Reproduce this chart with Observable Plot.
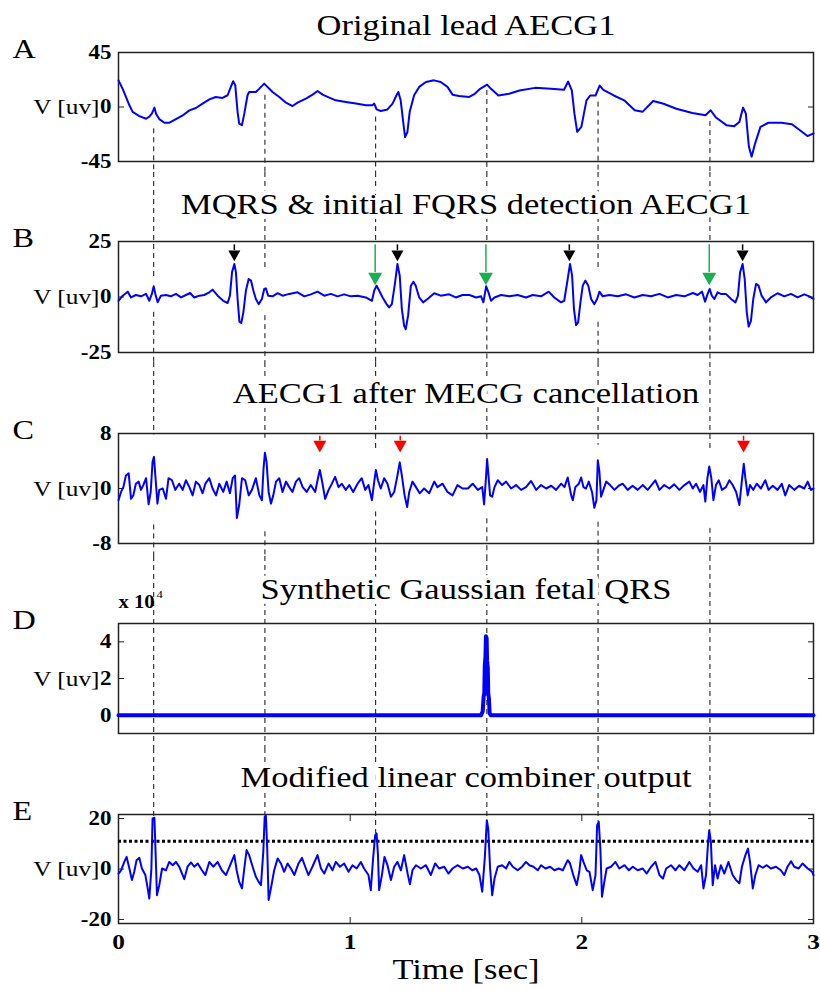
<!DOCTYPE html>
<html><head><meta charset="utf-8">
<script src="https://cdn.jsdelivr.net/npm/d3@7"></script>
<script src="https://cdn.jsdelivr.net/npm/@observablehq/plot@0.6"></script>
<style>
html,body{margin:0;padding:0;background:#fff;overflow:hidden;}
#fig{width:820px;}
#fig svg{display:block;max-width:none;}
</style></head><body><div id="fig"></div>
<script>
// ---------- data ----------
const titles = ["Original lead AECG1", "MQRS & initial FQRS detection AECG1", "AECG1 after MECG cancellation", "Synthetic Gaussian fetal QRS", "Modified linear combiner output"];
const panelLetters = ["A", "B", "C", "D", "E"];
const yLabel = "V [uv]";
const xLabel = "Time [sec]";
const timeTicks = [0, 1, 2, 3];
const yTicksA = [-45, 0, 45];
const yTicksB = [-25, 0, 25];
const yTicksC = [-8, 0, 8];
const yTicksD = [0, 20000, 40000];
const yTicksE = [-20, 0, 20];
const scaleNote = "x 10";
const scaleExp = "4";
const threshold = 11;

const fetalTimes = [0.152, 0.632, 1.11, 1.59, 2.07, 2.553];
const guideStartA = [-18, 9.7, -8.3, 13.6, 4, -12];
const guideUpperB = [8.1, 12.6, 25, 25, 11.9, 25];
const guideLowerB = [-6.9, -8.4, -6.9, -5.4, -11.4, -5.4];
const guideUpperC = [7.8, 7.3, 5.8, 6.8, 6.3, 5.8];
const guideLowerC = [-5.3, -6.3, -3.4, -4.4, -4.9, -5.8];
const guideEndE = [20.3, 21.3, 14.1, 19.3, 18.7, 15.4];

const maternalTimes = [0.5, 1.204, 1.946, 2.694];
const initialFqrsTimes = [1.108, 1.586, 2.55];
const missedFqrsTimes = [0.869, 1.216, 2.698];

const aecgA = [[0,22],[0.018,15],[0.047,1.4],[0.061,-4],[0.09,-7.5],[0.119,-9.7],[0.133,-8],[0.144,-5.5],[0.155,-0.5],[0.162,-5.5],[0.176,-10],[0.198,-13],[0.22,-13],[0.248,-10],[0.277,-7],[0.306,-2.8],[0.334,-0.8],[0.363,2.8],[0.392,6.3],[0.42,8.3],[0.449,7.5],[0.471,9.7],[0.485,16.6],[0.495,21.3],[0.504,18],[0.514,-4],[0.521,-13.8],[0.533,-15],[0.543,-5.5],[0.557,9.7],[0.564,12.4],[0.593,12.4],[0.608,15.2],[0.629,19.3],[0.643,16.6],[0.665,12.4],[0.694,8.3],[0.723,3.6],[0.751,0.8],[0.773,3.6],[0.809,6.9],[0.838,10.2],[0.859,13.2],[0.881,10.2],[0.91,7.7],[0.938,5.5],[0.981,4.1],[1.025,2.8],[1.068,1.4],[1.096,1.4],[1.104,2.8],[1.114,-2],[1.132,-3.3],[1.161,-2],[1.183,2.8],[1.2,9.7],[1.208,12.4],[1.218,5.5],[1.229,-12.4],[1.237,-24.8],[1.247,-20.7],[1.257,-4],[1.276,9.7],[1.298,16.6],[1.327,20.7],[1.362,22],[1.391,20.7],[1.42,16.6],[1.442,10.2],[1.47,9.1],[1.514,8.3],[1.538,10.9],[1.561,15],[1.591,18.5],[1.608,15],[1.64,9.5],[1.686,10.9],[1.731,13.6],[1.798,15.8],[1.866,15],[1.923,14.2],[1.941,21],[1.957,13.6],[1.968,-5.5],[1.98,-20.5],[1.998,-16.4],[2.02,5.5],[2.036,9.5],[2.059,9.5],[2.077,17.7],[2.093,14.2],[2.138,9.5],[2.183,5.5],[2.228,-2.7],[2.262,-4],[2.308,4.9],[2.353,2.7],[2.408,-1.4],[2.477,-4.9],[2.534,-6.8],[2.556,-2.7],[2.579,-8.7],[2.624,-15],[2.658,-15.8],[2.68,-12.3],[2.696,-0.5],[2.708,-5.5],[2.721,-32.7],[2.733,-41],[2.748,-30],[2.771,-16.4],[2.805,-13],[2.861,-13],[2.907,-14.2],[2.94,-19],[2.974,-24],[3.0,-21.8]];

const aecgB = [[0,-1.7],[0.018,0.6],[0.04,2.4],[0.054,-0.2],[0.075,0.9],[0.097,0.3],[0.119,1.4],[0.133,-1.7],[0.144,1.4],[0.152,4.8],[0.159,1.4],[0.169,-2.4],[0.183,0.6],[0.205,0.9],[0.226,0.3],[0.248,1.4],[0.27,-0.2],[0.291,0.9],[0.309,1.8],[0.327,-0.2],[0.349,0.6],[0.37,0.9],[0.392,2.1],[0.406,3.3],[0.428,0.6],[0.452,-1.7],[0.471,-2.7],[0.481,0.6],[0.49,11.1],[0.5,14.9],[0.507,11.1],[0.514,-0.9],[0.522,-11.1],[0.53,-11.7],[0.539,-6.9],[0.55,2.9],[0.562,8.1],[0.572,7.4],[0.582,2.9],[0.593,-0.9],[0.605,-3.2],[0.619,-0.9],[0.629,3.6],[0.636,3.9],[0.646,0.6],[0.665,0.3],[0.687,1.7],[0.708,0.6],[0.737,1.4],[0.773,2.1],[0.802,0.3],[0.83,1.2],[0.859,2.4],[0.888,0.6],[0.917,1.4],[0.945,0.3],[0.974,1.2],[1.003,0.3],[1.032,0.6],[1.068,-0.2],[1.094,-1.7],[1.104,2.9],[1.114,5.1],[1.125,2.9],[1.14,-0.2],[1.157,-3.2],[1.168,-4.7],[1.18,-3.2],[1.194,6.6],[1.204,14.9],[1.214,9.6],[1.223,-5.4],[1.233,-13],[1.24,-14.5],[1.25,-8.4],[1.262,5.1],[1.273,6.9],[1.283,5.1],[1.298,-0.2],[1.315,-2.4],[1.334,-0.9],[1.363,1.7],[1.391,0.6],[1.427,1.2],[1.456,-0.2],[1.485,0.9],[1.515,0.9],[1.544,-0.2],[1.565,0.3],[1.575,-2.4],[1.587,4.8],[1.597,2.1],[1.608,-1.7],[1.623,-0.2],[1.651,0.9],[1.687,0.3],[1.723,0.9],[1.759,-0.2],[1.788,0.9],[1.824,0.3],[1.857,2.4],[1.881,-0.2],[1.91,-2.4],[1.924,-1.7],[1.939,8.1],[1.949,14.9],[1.958,9.6],[1.966,-5.4],[1.975,-12.7],[1.984,-11.4],[1.994,-2.4],[2.004,5.1],[2.015,7.4],[2.028,5.1],[2.04,-0.9],[2.054,-3.2],[2.066,-0.9],[2.076,2.4],[2.09,0.3],[2.119,0.9],[2.155,0.3],[2.191,1.2],[2.227,-0.2],[2.263,0.9],[2.299,0.3],[2.335,1.4],[2.371,-0.2],[2.407,0.9],[2.443,0.3],[2.479,1.8],[2.5,0.9],[2.519,2.4],[2.532,-2.1],[2.543,1.4],[2.552,3.6],[2.561,0.6],[2.572,-0.9],[2.586,2.1],[2.6,1.4],[2.622,1.4],[2.644,-0.9],[2.663,-2.4],[2.674,0.6],[2.683,11.1],[2.694,14.9],[2.703,8.1],[2.712,-6.9],[2.72,-13.3],[2.73,-10.7],[2.74,-0.9],[2.752,5.9],[2.763,5.1],[2.776,0.6],[2.795,-2.4],[2.816,-0.2],[2.845,1.7],[2.874,0.3],[2.903,1.4],[2.931,-0.2],[2.96,1.2],[2.982,0.3],[3.0,-0.9]];

const aecgC = [[0,-1.7],[0.011,-0.5],[0.021,0.2],[0.032,1.9],[0.044,2.2],[0.054,-1.5],[0.064,-1.0],[0.075,0.7],[0.087,1.0],[0.097,-0.2],[0.107,0.5],[0.119,1.5],[0.13,-2.3],[0.139,-0.5],[0.147,3.9],[0.153,4.6],[0.159,1.9],[0.168,-2.2],[0.176,-0.2],[0.191,0],[0.205,-1.5],[0.216,1.5],[0.231,1.2],[0.245,-0.2],[0.262,0.7],[0.277,-0.2],[0.291,1.2],[0.306,0.2],[0.32,-1.0],[0.334,1.0],[0.349,0.5],[0.363,-0.7],[0.375,0.7],[0.392,1.5],[0.406,0],[0.421,-1.0],[0.435,0.7],[0.452,-0.5],[0.467,1.0],[0.481,-0.7],[0.493,1.5],[0.503,1.9],[0.511,-4.3],[0.521,-2.4],[0.533,1.5],[0.547,1.2],[0.562,-1.0],[0.576,-0.2],[0.593,1.5],[0.608,-1.0],[0.619,-1.7],[0.626,2.9],[0.632,5.2],[0.639,3.9],[0.648,-0.5],[0.658,-2.2],[0.668,-1.0],[0.68,1.0],[0.694,1.5],[0.708,-0.5],[0.723,1.0],[0.737,0.2],[0.751,-0.5],[0.766,1.0],[0.78,1.5],[0.795,0.2],[0.812,-0.5],[0.83,0.5],[0.849,-0.5],[0.861,1.5],[0.869,2.7],[0.878,1.2],[0.892,-1.5],[0.907,-0.2],[0.921,0.7],[0.935,1.7],[0.95,0.2],[0.964,0.7],[0.981,-0.2],[0.996,0.5],[1.013,-0.5],[1.032,0.7],[1.05,1.5],[1.065,-0.2],[1.079,0.5],[1.094,-1.7],[1.104,1.0],[1.111,2.7],[1.12,1.2],[1.132,0],[1.147,1.5],[1.161,0.7],[1.176,-1.2],[1.19,-0.5],[1.204,1.9],[1.214,3.8],[1.223,1.9],[1.235,-1.0],[1.246,-2.7],[1.255,-0.5],[1.269,1.0],[1.284,0.2],[1.3,-0.7],[1.319,0],[1.341,-0.7],[1.363,1.0],[1.377,0.2],[1.399,0.7],[1.42,-0.5],[1.442,-1.0],[1.463,0.5],[1.485,0],[1.508,0],[1.529,0.7],[1.551,-0.2],[1.57,0.2],[1.578,-2.3],[1.587,1.9],[1.591,4.3],[1.597,1.9],[1.604,-1.0],[1.613,-1.2],[1.623,0.2],[1.637,1.2],[1.656,0.5],[1.673,1.0],[1.695,0],[1.716,0.5],[1.738,-0.2],[1.759,0.2],[1.781,1.1],[1.803,-0.2],[1.824,0.5],[1.846,0],[1.868,0.4],[1.889,-0.2],[1.911,0.7],[1.925,0.2],[1.939,1.6],[1.954,-1.0],[1.961,-1.7],[1.972,0.2],[1.987,0.7],[1.997,1.6],[2.007,0.2],[2.018,0],[2.03,1.0],[2.044,-0.5],[2.054,-2.8],[2.063,-1.7],[2.069,4.1],[2.076,2.4],[2.083,-1.2],[2.093,-0.2],[2.105,1.0],[2.122,0.5],[2.141,-0.2],[2.159,0.4],[2.176,0.7],[2.198,-0.2],[2.219,0.4],[2.241,-0.2],[2.263,0.5],[2.284,-0.2],[2.306,0.7],[2.317,1.2],[2.335,-0.2],[2.356,0.5],[2.378,0],[2.399,0.6],[2.421,-0.2],[2.443,0.5],[2.464,1.0],[2.479,0],[2.493,0.7],[2.51,-0.5],[2.525,0.5],[2.533,-1.9],[2.542,1.5],[2.55,3.2],[2.559,1.5],[2.568,-1.7],[2.579,0.5],[2.591,1.2],[2.605,-0.2],[2.622,0.2],[2.637,1.2],[2.651,0.5],[2.666,-0.5],[2.68,-2.4],[2.692,1.5],[2.699,3.6],[2.706,1.5],[2.716,-1.0],[2.726,0.5],[2.74,-0.2],[2.755,0.7],[2.773,0],[2.792,1.2],[2.806,-0.2],[2.824,0.4],[2.845,-0.2],[2.863,0.7],[2.878,-1.0],[2.895,0.5],[2.917,-0.2],[2.938,0.4],[2.96,0],[2.975,1.0],[2.989,-0.2],[3.0,0]];

const gaussD = [[0,0],[1.565,0],[1.572,2000],[1.576,10000],[1.579,12000],[1.581,27000],[1.584,32000],[1.586,43000],[1.589,42000],[1.591,30000],[1.594,26000],[1.596,12000],[1.599,9000],[1.602,1000],[1.607,0],[3,0]];

const combinerE = [[0,-1.8],[0.011,-0.5],[0.025,2.8],[0.035,4.8],[0.047,0.2],[0.058,-4.4],[0.068,-1.1],[0.078,3.5],[0.09,4.4],[0.101,0.2],[0.116,-2.4],[0.126,-7.7],[0.133,-11.7],[0.142,0.2],[0.147,20],[0.155,20.3],[0.16,6.8],[0.166,-10.4],[0.176,-6.4],[0.188,0.2],[0.205,-0.5],[0.219,2.8],[0.234,1.5],[0.248,2.8],[0.262,0.9],[0.284,-4.0],[0.298,0.9],[0.313,2.6],[0.327,0.9],[0.342,2.2],[0.36,-0.5],[0.375,-2.4],[0.392,2.8],[0.409,0.9],[0.428,2.8],[0.446,-0.5],[0.464,-2.4],[0.485,2.2],[0.5,5.5],[0.51,-0.5],[0.521,-5.1],[0.533,-7.7],[0.543,0.2],[0.553,7.5],[0.564,5.5],[0.579,0.9],[0.593,-3.1],[0.605,-5.1],[0.615,-6.4],[0.625,6.8],[0.631,20.7],[0.636,21.3],[0.642,8.1],[0.648,-12.3],[0.658,-7.7],[0.672,-0.5],[0.687,4.2],[0.701,2.2],[0.715,-1.1],[0.73,2.2],[0.744,0.2],[0.759,-2.4],[0.777,2.2],[0.792,4.4],[0.806,0.9],[0.82,-2.4],[0.837,0.9],[0.859,5.5],[0.874,0.2],[0.888,-1.8],[0.907,2.2],[0.924,-0.5],[0.938,2.8],[0.956,0.9],[0.974,2.2],[0.993,-1.1],[1.01,1.5],[1.028,0.2],[1.046,2.8],[1.06,0.2],[1.079,-2.4],[1.089,-8.4],[1.099,4.2],[1.108,13.4],[1.114,14.1],[1.12,5.5],[1.125,-8.4],[1.137,-2.4],[1.148,4.8],[1.161,1.5],[1.176,-4.4],[1.19,0.9],[1.204,2.8],[1.219,-0.5],[1.233,5.5],[1.248,-1.8],[1.258,-6.1],[1.269,-0.5],[1.284,1.5],[1.305,0.2],[1.327,1.5],[1.348,-2.4],[1.367,2.2],[1.384,0.2],[1.406,0.9],[1.424,-1.8],[1.442,0.2],[1.463,1.5],[1.486,0.2],[1.508,0.9],[1.527,-0.5],[1.544,0.2],[1.558,-2.4],[1.57,-9.0],[1.581,4.2],[1.59,19.3],[1.596,16.0],[1.604,0.2],[1.613,-10.4],[1.623,-3.8],[1.637,0.9],[1.656,1.5],[1.673,0.2],[1.687,2.8],[1.702,0.9],[1.723,-0.5],[1.742,0.9],[1.759,2.8],[1.774,1.5],[1.791,0.9],[1.81,-0.5],[1.824,1.5],[1.843,0.2],[1.863,0.9],[1.882,-0.5],[1.9,0.2],[1.918,-0.5],[1.939,3.5],[1.949,2.2],[1.963,-2.4],[1.978,-6.4],[1.989,-1.1],[1.997,5.5],[2.007,2.8],[2.021,-0.5],[2.033,-1.1],[2.047,-8.4],[2.059,-2.4],[2.066,17.4],[2.073,18.7],[2.08,8.1],[2.087,-11.0],[2.097,-5.1],[2.107,0.2],[2.126,0.9],[2.145,2.8],[2.162,0.2],[2.184,1.5],[2.203,-0.5],[2.22,0.9],[2.241,-0.5],[2.263,0.2],[2.28,-1.8],[2.299,0.9],[2.318,2.8],[2.335,-2.4],[2.35,-3.8],[2.364,0.2],[2.385,1.5],[2.404,-0.5],[2.421,1.5],[2.443,-0.5],[2.464,2.8],[2.482,0.2],[2.5,-1.1],[2.515,1.5],[2.525,-7.7],[2.536,-2.4],[2.545,10.8],[2.55,15.4],[2.557,10.8],[2.565,-6.4],[2.575,1.5],[2.586,-3.8],[2.6,1.5],[2.615,-1.8],[2.633,2.8],[2.651,-2.4],[2.666,-4.4],[2.68,-5.7],[2.691,0.9],[2.706,5.5],[2.717,8.1],[2.726,2.8],[2.738,-7.7],[2.749,-2.4],[2.763,1.5],[2.781,0.5],[2.798,1.5],[2.816,0.2],[2.838,0.9],[2.859,-0.5],[2.874,-2.4],[2.888,0.9],[2.903,3.1],[2.917,0.9],[2.936,0.2],[2.953,2.2],[2.975,0.2],[2.994,-1.1],[3.0,-2.4]];

// ---------- style ----------
const serif = "'Liberation Serif','Times New Roman',serif";
const STRETCH = 1.15;
const BLUE = "#0000ff";
const GREEN = "#1cae55";
const FRAME = "#222";
const guideStyle = {stroke: "#111", strokeWidth: 1, strokeDasharray: "5,4"};

const triDown = {
  draw(ctx, size) {
    const r = Math.sqrt(size / Math.PI);
    ctx.moveTo(-r, -r * 0.9);
    ctx.lineTo(r, -r * 0.9);
    ctx.lineTo(0, r * 0.9);
    ctx.closePath();
  }
};

function stretchText(svg) {
  svg.querySelectorAll("text").forEach((t) => {
    const tr = t.getAttribute("transform");
    if (tr && tr.startsWith("translate")) t.setAttribute("transform", tr + ` scale(${STRETCH},1)`);
  });
}

function commonMarks(idx, yTicks, tickFmt, dyTitle) {
  return [
    Plot.text([titles[idx]], {text: (d) => d, frameAnchor: "top", lineAnchor: "middle", dy: dyTitle, fontSize: 30, fill: "black", stroke: "white", strokeWidth: 10, strokeLinejoin: "round"}),
    Plot.frame({stroke: FRAME, strokeWidth: 1.5}),
    Plot.axisY(yTicks, {anchor: "left", tickSize: -6, fill: "none", stroke: FRAME}),
    Plot.axisY(yTicks, {anchor: "right", tickSize: -6, fill: "none", stroke: FRAME}),
    Plot.text(yTicks, {y: (d) => d, text: tickFmt, frameAnchor: "left", dx: -7, textAnchor: "end", fontWeight: "bold", fontSize: 20}),
    Plot.text([yLabel], {text: (d) => d, frameAnchor: "left", dx: -19, textAnchor: "end", fontSize: 22}),
    Plot.text([panelLetters[idx]], {text: (d) => d, frameAnchor: "top-left", lineAnchor: "middle", dx: -106, dy: -3, textAnchor: "start", fontSize: 28})
  ];
}

function panel({h, mt, mb, yDomain, marks}) {
  const svg = Plot.plot({
    width: 820, height: h,
    marginLeft: 118, marginRight: 7, marginTop: mt, marginBottom: mb,
    x: {domain: [0, 3], axis: null},
    y: {domain: yDomain, axis: null},
    style: {fontFamily: serif, color: "black", background: "transparent", overflow: "visible"},
    marks
  });
  stretchText(svg);
  document.getElementById("fig").append(svg);
}

const fmt = (d) => String(d);

// ---------- A ----------
{
  const mt = 52, mb = 11, dom = [-45, 45];
  panel({h: 172, mt, mb, yDomain: dom, marks: [
    Plot.ruleX(fetalTimes, {x: (d) => d, y1: (d, i) => guideStartA[i], y2: dom[0], insetBottom: -mb, ...guideStyle}),
    ...commonMarks(0, yTicksA, fmt, -27),
    Plot.line(aecgA, {x: (d) => d[0], y: (d) => d[1], stroke: BLUE, strokeWidth: 2})
  ]});
}
// ---------- B ----------
{
  const mt = 69, mb = 10, dom = [-25, 25];
  panel({h: 190, mt, mb, yDomain: dom, marks: [
    Plot.ruleX(fetalTimes, {x: (d) => d, y1: dom[1], y2: (d, i) => guideUpperB[i], insetTop: -mt, ...guideStyle}),
    Plot.ruleX(fetalTimes, {x: (d) => d, y1: (d, i) => guideLowerB[i], y2: dom[0], insetBottom: -mb, ...guideStyle}),
    ...commonMarks(1, yTicksB, fmt, -37),
    Plot.line(aecgB, {x: (d) => d[0], y: (d) => d[1], stroke: BLUE, strokeWidth: 2}),
    Plot.ruleX(maternalTimes, {x: (d) => d, y1: 23.5, y2: 20.9, stroke: "black", strokeWidth: 1.5}),
    Plot.dot(maternalTimes, {x: (d) => d, y: 18.5, r: 6, symbol: triDown, fill: "black", stroke: "none"}),
    Plot.ruleX(initialFqrsTimes, {x: (d) => d, y1: 23.5, y2: 11, stroke: GREEN, strokeWidth: 1.5}),
    Plot.dot(initialFqrsTimes, {x: (d) => d, y: 8.1, r: 7, symbol: triDown, fill: GREEN, stroke: "none"})
  ]});
}
// ---------- C ----------
{
  const mt = 71, mb = 13, dom = [-8, 8];
  panel({h: 194, mt, mb, yDomain: dom, marks: [
    Plot.ruleX(fetalTimes, {x: (d) => d, y1: dom[1], y2: (d, i) => guideUpperC[i], insetTop: -mt, ...guideStyle}),
    Plot.ruleX(fetalTimes, {x: (d) => d, y1: (d, i) => guideLowerC[i], y2: dom[0], insetBottom: -mb, ...guideStyle}),
    ...commonMarks(2, yTicksC, fmt, -40),
    Plot.line(aecgC, {x: (d) => d[0], y: (d) => d[1], stroke: BLUE, strokeWidth: 2}),
    Plot.ruleX(missedFqrsTimes, {x: (d) => d, y1: 7.6, y2: 6.9, stroke: "red", strokeWidth: 1.5}),
    Plot.dot(missedFqrsTimes, {x: (d) => d, y: 6.1, r: 6.5, symbol: triDown, fill: "red", stroke: "none"})
  ]});
}
// ---------- D ----------
{
  const mt = 67, mb = 15, dom = [-10000, 50000];
  panel({h: 192, mt, mb, yDomain: dom, marks: [
    Plot.ruleX(fetalTimes, {x: (d) => d, y1: dom[1], y2: dom[0], insetTop: -mt, insetBottom: -mb, ...guideStyle}),
    ...commonMarks(3, yTicksD, (d) => String(d / 10000), -34),
    Plot.text([scaleNote], {text: (d) => d, frameAnchor: "top-left", lineAnchor: "middle", dy: -21, textAnchor: "start", fontWeight: "bold", fontSize: 18}),
    Plot.text([scaleExp], {text: (d) => d, frameAnchor: "top-left", lineAnchor: "middle", dx: 38, dy: -29, textAnchor: "start", fontSize: 11}),
    Plot.line(gaussD, {x: (d) => d[0], y: (d) => d[1], stroke: BLUE, strokeWidth: 4})
  ]});
}
// ---------- E ----------
{
  const mt = 66, mb = 67, dom = [-21.6, 21.6];
  panel({h: 242, mt, mb, yDomain: dom, marks: [
    Plot.ruleX(fetalTimes, {x: (d) => d, y1: dom[1], y2: (d, i) => guideEndE[i], insetTop: -mt, ...guideStyle}),
    ...commonMarks(4, yTicksE, fmt, -37),
    Plot.axisX(timeTicks, {anchor: "bottom", tickSize: -6, fill: "none", stroke: FRAME}),
    Plot.axisX(timeTicks, {anchor: "top", tickSize: -6, fill: "none", stroke: FRAME}),
    Plot.text(timeTicks, {x: (d) => d, text: fmt, frameAnchor: "bottom", lineAnchor: "middle", dy: 18, fontWeight: "bold", fontSize: 22}),
    Plot.text([xLabel], {text: (d) => d, frameAnchor: "bottom", lineAnchor: "middle", dy: 46, fontSize: 30}),
    Plot.ruleY([threshold], {y: (d) => d, stroke: "black", strokeWidth: 3, strokeDasharray: "3,2.5"}),
    Plot.line(combinerE, {x: (d) => d[0], y: (d) => d[1], stroke: BLUE, strokeWidth: 2})
  ]});
}
</script></body></html>
